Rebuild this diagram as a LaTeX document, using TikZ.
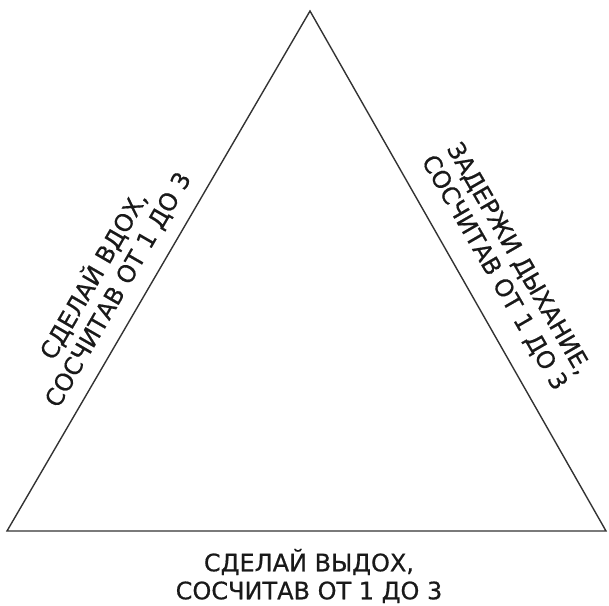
\documentclass[tikz,border=0pt]{standalone}
\usepackage{fontspec}
\setmainfont[FakeBold=0.6]{DejaVu Sans}
\begin{document}
\begin{tikzpicture}[x=1pt,y=-1pt,
  lbl/.style={align=center,inner sep=0pt,font=\fontsize{24}{28}\selectfont,text=black!90}]
\useasboundingbox (0,0) rectangle (609,605);
\coordinate (top) at (310,11);
\coordinate (bl) at (7,531);
\coordinate (br) at (606,531);
\draw[line width=1.4pt,black!80,line join=miter] (top) -- (bl) -- (br) -- cycle;
\node[lbl,rotate=60] (inhale) at (105,282) {СДЕЛАЙ ВДОХ,\\СОСЧИТАВ ОТ 1 ДО 3};
\node[lbl,rotate=-60] (hold) at (506,266) {ЗАДЕРЖИ ДЫХАНИЕ,\\СОСЧИТАВ ОТ 1 ДО 3};
\node[lbl] (exhale) at (309,576) {СДЕЛАЙ ВЫДОХ,\\СОСЧИТАВ ОТ 1 ДО 3};
\end{tikzpicture}
\end{document}
